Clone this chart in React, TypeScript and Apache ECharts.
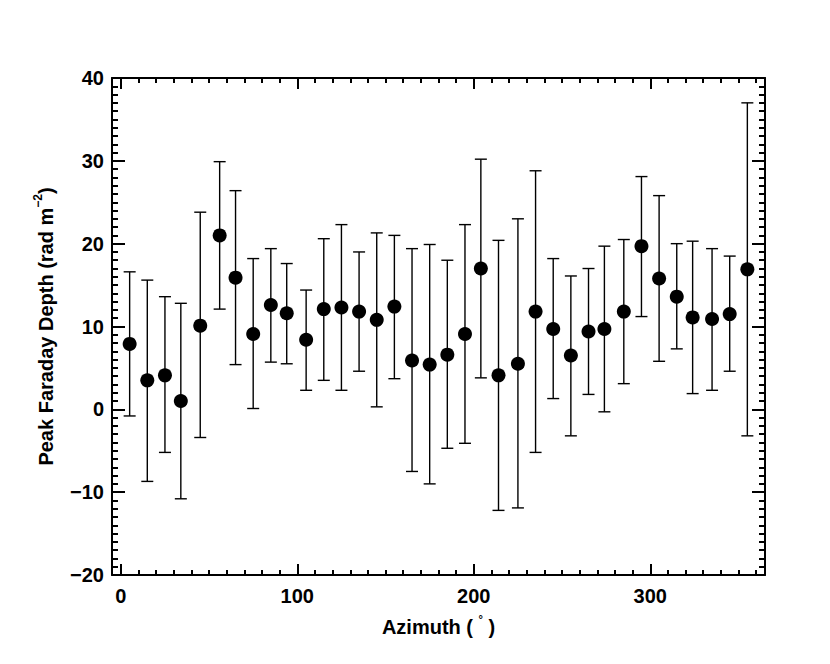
import React, { useEffect, useRef } from "react";
import * as echarts from "echarts";

const azimuth = [5, 15, 25, 34, 45, 56, 65, 75, 85, 94, 105, 115, 125, 135, 145, 155, 165, 175, 185, 195, 204, 214, 225, 235, 245, 255, 265, 274, 285, 295, 305, 315, 324, 335, 345, 355];
const depth = [7.9, 3.5, 4.1, 1.0, 10.1, 21.0, 15.9, 9.1, 12.6, 11.6, 8.4, 12.1, 12.3, 11.8, 10.8, 12.4, 5.9, 5.4, 6.6, 9.1, 17.0, 4.1, 5.5, 11.8, 9.7, 6.5, 9.4, 9.7, 11.8, 19.7, 15.8, 13.6, 11.1, 10.9, 11.5, 16.9];
const errTop = [16.6, 15.6, 13.6, 12.8, 23.8, 29.9, 26.4, 18.2, 19.4, 17.6, 14.4, 20.6, 22.3, 19.0, 21.3, 21.0, 19.4, 19.9, 18.0, 22.3, 30.2, 20.4, 23.0, 28.8, 18.2, 16.1, 17.0, 19.7, 20.5, 28.1, 25.8, 20.0, 20.3, 19.4, 18.5, 37.0];
const errBottom = [-0.8, -8.7, -5.2, -10.8, -3.4, 12.1, 5.4, 0.1, 5.7, 5.5, 2.3, 3.5, 2.3, 4.6, 0.3, 3.7, -7.5, -9.0, -4.7, -4.1, 3.8, -12.2, -11.9, -5.2, 1.3, -3.2, 1.8, -0.3, 3.1, 11.2, 5.8, 7.3, 1.9, 2.3, 4.6, -3.2];

const xMajor = [0, 100, 200, 300];
const xMinor = [10, 20, 30, 40, 50, 60, 70, 80, 90, 110, 120, 130, 140, 150, 160, 170, 180, 190, 210, 220, 230, 240, 250, 260, 270, 280, 290, 310, 320, 330, 340, 350, 360];

const FONT = "'Liberation Sans', Arial, Helvetica, sans-serif";

export default function App() {
  const ref = useRef<HTMLDivElement>(null);
  useEffect(() => {
    if (!ref.current) return;
    const chart = echarts.init(ref.current, undefined, { renderer: "svg" });
    const lbl = {
      fontFamily: FONT,
      fontWeight: "bold" as const,
      fontSize: 20,
      color: "#000",
    };
    const xBase = (pos: string, major: boolean, extra: any = {}) => ({
      type: "value",
      position: pos,
      min: -5,
      max: 365,
      gridIndex: 0,
      axisLine: { show: major, onZero: false, lineStyle: { color: "#000", width: 2 } },
      axisTick: {
        show: true,
        inside: true,
        length: major ? 11 : 5,
        lineStyle: { color: "#000", width: 2 },
        customValues: major ? xMajor : xMinor,
      },
      axisLabel: { show: false },
      splitLine: { show: false },
      ...extra,
    });
    const yBase = (pos: string, major: boolean, extra: any = {}) => ({
      type: "value",
      position: pos,
      min: -20,
      max: 40,
      interval: major ? 10 : 1,
      gridIndex: 0,
      axisLine: { show: major, onZero: false, lineStyle: { color: "#000", width: 2 } },
      axisTick: {
        show: true,
        inside: true,
        length: major ? 13 : 6,
        lineStyle: { color: "#000", width: 2 },
      },
      axisLabel: { show: false },
      splitLine: { show: false },
      ...extra,
    });

    const option: any = {
      animation: false,
      backgroundColor: "#fff",
      grid: { left: 112, right: 65, top: 78, bottom: 89, containLabel: false },
      xAxis: [
        xBase("bottom", true, {
          axisLabel: {
            show: true,
            ...lbl,
            margin: 11,
            customValues: xMajor,
            formatter: (v: number) => String(v).replace("-", "\u2212"),
          },
          name: "Azimuth ( {sup|\u00b0} )",
          nameLocation: "middle",
          nameGap: 38,
          nameTextStyle: {
            ...lbl,
            rich: {
              sup: { ...lbl, fontSize: 11, padding: [0, 0, 16, 0] },
            },
          },
        }),
        xBase("bottom", false),
        xBase("top", true),
        xBase("top", false),
      ],
      yAxis: [
        yBase("left", true, {
          axisLabel: {
            show: true,
            ...lbl,
            margin: 8,
            formatter: (v: number) => String(v).replace("-", "\u2212"),
          },
          name: "Peak Faraday Depth (rad m{sup|\u22122})",
          nameLocation: "middle",
          nameGap: 52,
          nameRotate: 90,
          nameTextStyle: {
            ...lbl,
            rich: {
              sup: { ...lbl, fontSize: 12, padding: [0, 0, 16, 0] },
            },
          },
        }),
        yBase("left", false),
        yBase("right", true),
        yBase("right", false),
      ],
      series: [
        {
          type: "custom",
          xAxisIndex: 0,
          yAxisIndex: 0,
          data: azimuth.map((a, i) => [a, errBottom[i], errTop[i]]),
          renderItem: (params: any, api: any) => {
            const x = api.value(0);
            const lo = api.coord([x, api.value(1)]);
            const hi = api.coord([x, api.value(2)]);
            const hw = 6;
            const st = { stroke: "#000", lineWidth: 1.4 };
            return {
              type: "group",
              children: [
                { type: "line", shape: { x1: lo[0], y1: lo[1], x2: hi[0], y2: hi[1] }, style: st },
                { type: "line", shape: { x1: hi[0] - hw, y1: hi[1], x2: hi[0] + hw, y2: hi[1] }, style: st },
                { type: "line", shape: { x1: lo[0] - hw, y1: lo[1], x2: lo[0] + hw, y2: lo[1] }, style: st },
              ],
            };
          },
          z: 2,
        },
        {
          type: "scatter",
          xAxisIndex: 0,
          yAxisIndex: 0,
          data: azimuth.map((a, i) => [a, depth[i]]),
          symbol: "circle",
          symbolSize: 14,
          itemStyle: { color: "#000", opacity: 1 },
          z: 3,
        },
      ],
    };
    chart.setOption(option);
    return () => chart.dispose();
  }, []);
  return (
    <div
      ref={ref}
      style={{ position: "absolute", left: 0, top: 0, width: 830, height: 664, background: "#fff" }}
    />
  );
}
